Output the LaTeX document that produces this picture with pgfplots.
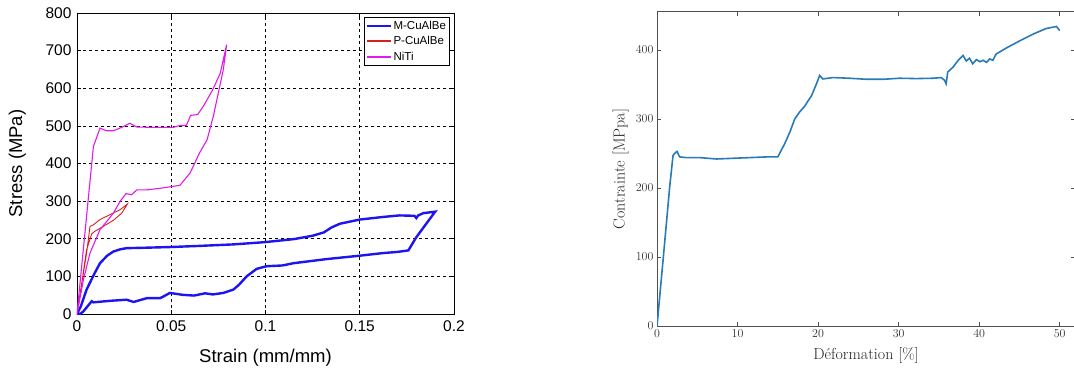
\documentclass[border=0pt]{standalone}
\usepackage{fontspec}
\usepackage{pgfplots}
\pgfplotsset{compat=1.18}
\newfontfamily\arial{Liberation Sans}
\definecolor{mblue}{RGB}{30,20,240}
\definecolor{pred}{RGB}{215,30,30}
\definecolor{nmag}{RGB}{225,25,235}
\definecolor{mplblue}{RGB}{40,122,184}
\definecolor{spine}{RGB}{80,80,80}
\begin{document}
\begin{tikzpicture}
\path[use as bounding box] (0pt,0pt) rectangle (1074pt,370pt);
% ---------------- left chart ----------------
\begin{axis}[
  at={(77pt,56pt)}, anchor=south west,
  scale only axis, width=377pt, height=301pt,
  xmin=0, xmax=0.2, ymin=0, ymax=800,
  xtick={0,0.05,0.1,0.15,0.2},
  xticklabels={0,0.05,0.1,0.15,0.2},
  ytick={0,100,200,300,400,500,600,700,800},
  yticklabels={0,100,200,300,400,500,600,700,800},
  grid=major,
  grid style={dashed, black, line width=0.6pt},
  tick align=inside, major tick length=4pt,
  tick style={black, line width=0.6pt},
  axis line style={black, line width=0.9pt},
  ticklabel style={font=\arial\fontsize{15.5}{16}\selectfont},
  yticklabel style={xshift=-2pt},
  xticklabel style={yshift=-3pt},
  xlabel={Strain (mm/mm)},
  ylabel={Stress (MPa)},
  label style={font=\arial\fontsize{18.5}{20}\selectfont},
  xlabel style={at={(axis description cs:0.5,-0.145)}, anchor=center},
  ylabel style={at={(axis description cs:-0.158,0.5)}, anchor=center},
  legend style={at={(axis description cs:0.989,0.987)}, anchor=north east,
    font=\arial\fontsize{11.5}{12}\selectfont, draw=black, line width=0.8pt,
    inner sep=1.5pt, row sep=1.8pt, cells={anchor=west}},
  legend cell align=left,
  legend image code/.code={\draw[#1] (0pt,0pt) -- (24pt,0pt);},
]
\addlegendimage{mblue, line width=1.8pt}
\addlegendentry{M-CuAlBe}
\addlegendimage{pred, line width=1.8pt}
\addlegendentry{P-CuAlBe}
\addlegendimage{nmag, line width=1.8pt}
\addlegendentry{NiTi}
\addplot[mblue, line width=2.4pt, forget plot] coordinates {
(0,0) (0.0020,20) (0.0051,65) (0.0090,105) (0.0122,135) (0.0160,155)
(0.0193,166) (0.0230,172) (0.0263,175) (0.0350,176) (0.0497,178)
(0.0650,181) (0.0830,185) (0.0997,191) (0.1150,199) (0.1250,208)
(0.1310,217) (0.1350,230) (0.1395,240) (0.1500,251) (0.1625,258)
(0.1710,262) (0.1790,261) (0.1800,255) (0.1810,262) (0.1837,268)
(0.1900,272) (0.1800,204) (0.1758,169) (0.1700,165) (0.1625,162)
(0.1500,155) (0.1325,146) (0.1148,135) (0.1090,129) (0.1006,127)
(0.0953,120) (0.0900,100) (0.0860,78) (0.0830,65) (0.0776,56)
(0.0720,52) (0.0680,55) (0.0620,49) (0.0560,51) (0.0493,56)
(0.0460,47) (0.0440,42) (0.0370,42) (0.0300,32) (0.0263,38)
(0.0175,35) (0.0087,31) (0.0078,34) (0.0034,7) (0.0016,0) (0,0)
};
\addplot[pred, line width=0.9pt, forget plot] coordinates {
(0,0) (0.0051,162) (0.0069,233) (0.0087,237) (0.0122,251) (0.0175,264)
(0.0228,277) (0.0267,292) (0.0237,268) (0.0193,249) (0.0140,233)
(0.0095,220) (0.0078,213) (0.0051,171) (0.0025,82) (0,0)
};
\addplot[nmag, line width=1.1pt, forget plot] coordinates {
(0,0) (0.0087,445) (0.0122,494) (0.0157,487) (0.0193,487) (0.0237,496)
(0.0280,507) (0.0317,497) (0.0405,496) (0.0510,496) (0.0546,501)
(0.0580,501) (0.0603,528) (0.0640,530) (0.0670,552) (0.0720,596)
(0.0760,640) (0.0794,716) (0.0776,649) (0.0723,525) (0.0690,463)
(0.0650,428) (0.0600,375) (0.0546,342) (0.0493,338) (0.0440,334)
(0.0370,330) (0.0317,330) (0.0290,317) (0.0260,320) (0.0228,299)
(0.0193,268) (0.0122,224) (0.0069,162) (0.0034,91) (0,0)
};
\end{axis}
% ---------------- right chart ----------------
\begin{axis}[
  at={(657pt,44pt)}, anchor=south west,
  scale only axis, width=418pt, height=314pt,
  xmin=0, xmax=51.9, ymin=0, ymax=455,
  xtick={0,10,20,30,40,50},
  ytick={0,100,200,300,400},
  tick align=inside, major tick length=4pt,
  tick style={spine, line width=0.6pt},
  axis line style={spine, line width=1pt},
  ticklabel style={font=\fontsize{13}{13}\selectfont, text=black!80},
  xlabel={D\'eformation [\%]},
  ylabel={Contrainte [MPpa]},
  label style={font=\fontsize{16}{17}\selectfont, text=black!85},
  xlabel style={at={(axis description cs:0.5,-0.095)}, anchor=center},
  ylabel style={at={(axis description cs:-0.087,0.5)}, anchor=center},
]
\addplot[mplblue, line width=1.6pt] coordinates {
(0,0) (0.75,95) (1.57,201) (1.99,247) (2.19,250) (2.48,253) (2.81,245)
(3.64,244) (5.3,244) (7.4,242) (9.4,243) (11.5,244) (13.6,245) (15.0,245)
(15.4,254) (15.85,264) (16.5,281) (17.1,300) (17.7,310) (18.3,318)
(19.2,334) (19.8,351) (20.2,363) (20.6,358) (21.85,360) (23.9,359)
(26.0,357.5) (28.1,357.5) (30.1,359) (32.2,358.5) (34.3,359) (35.3,360)
(35.7,356) (35.9,351) (36.1,368) (36.75,375) (37.4,385) (38.0,392)
(38.4,384) (38.8,388) (39.2,380) (39.65,386) (40.1,383) (40.5,385)
(40.9,382) (41.3,387) (41.7,385) (42.1,394) (43.4,403) (45.0,413)
(46.7,423) (48.3,431) (49.6,434) (50.0,428)
};
\end{axis}
\end{tikzpicture}
\end{document}
